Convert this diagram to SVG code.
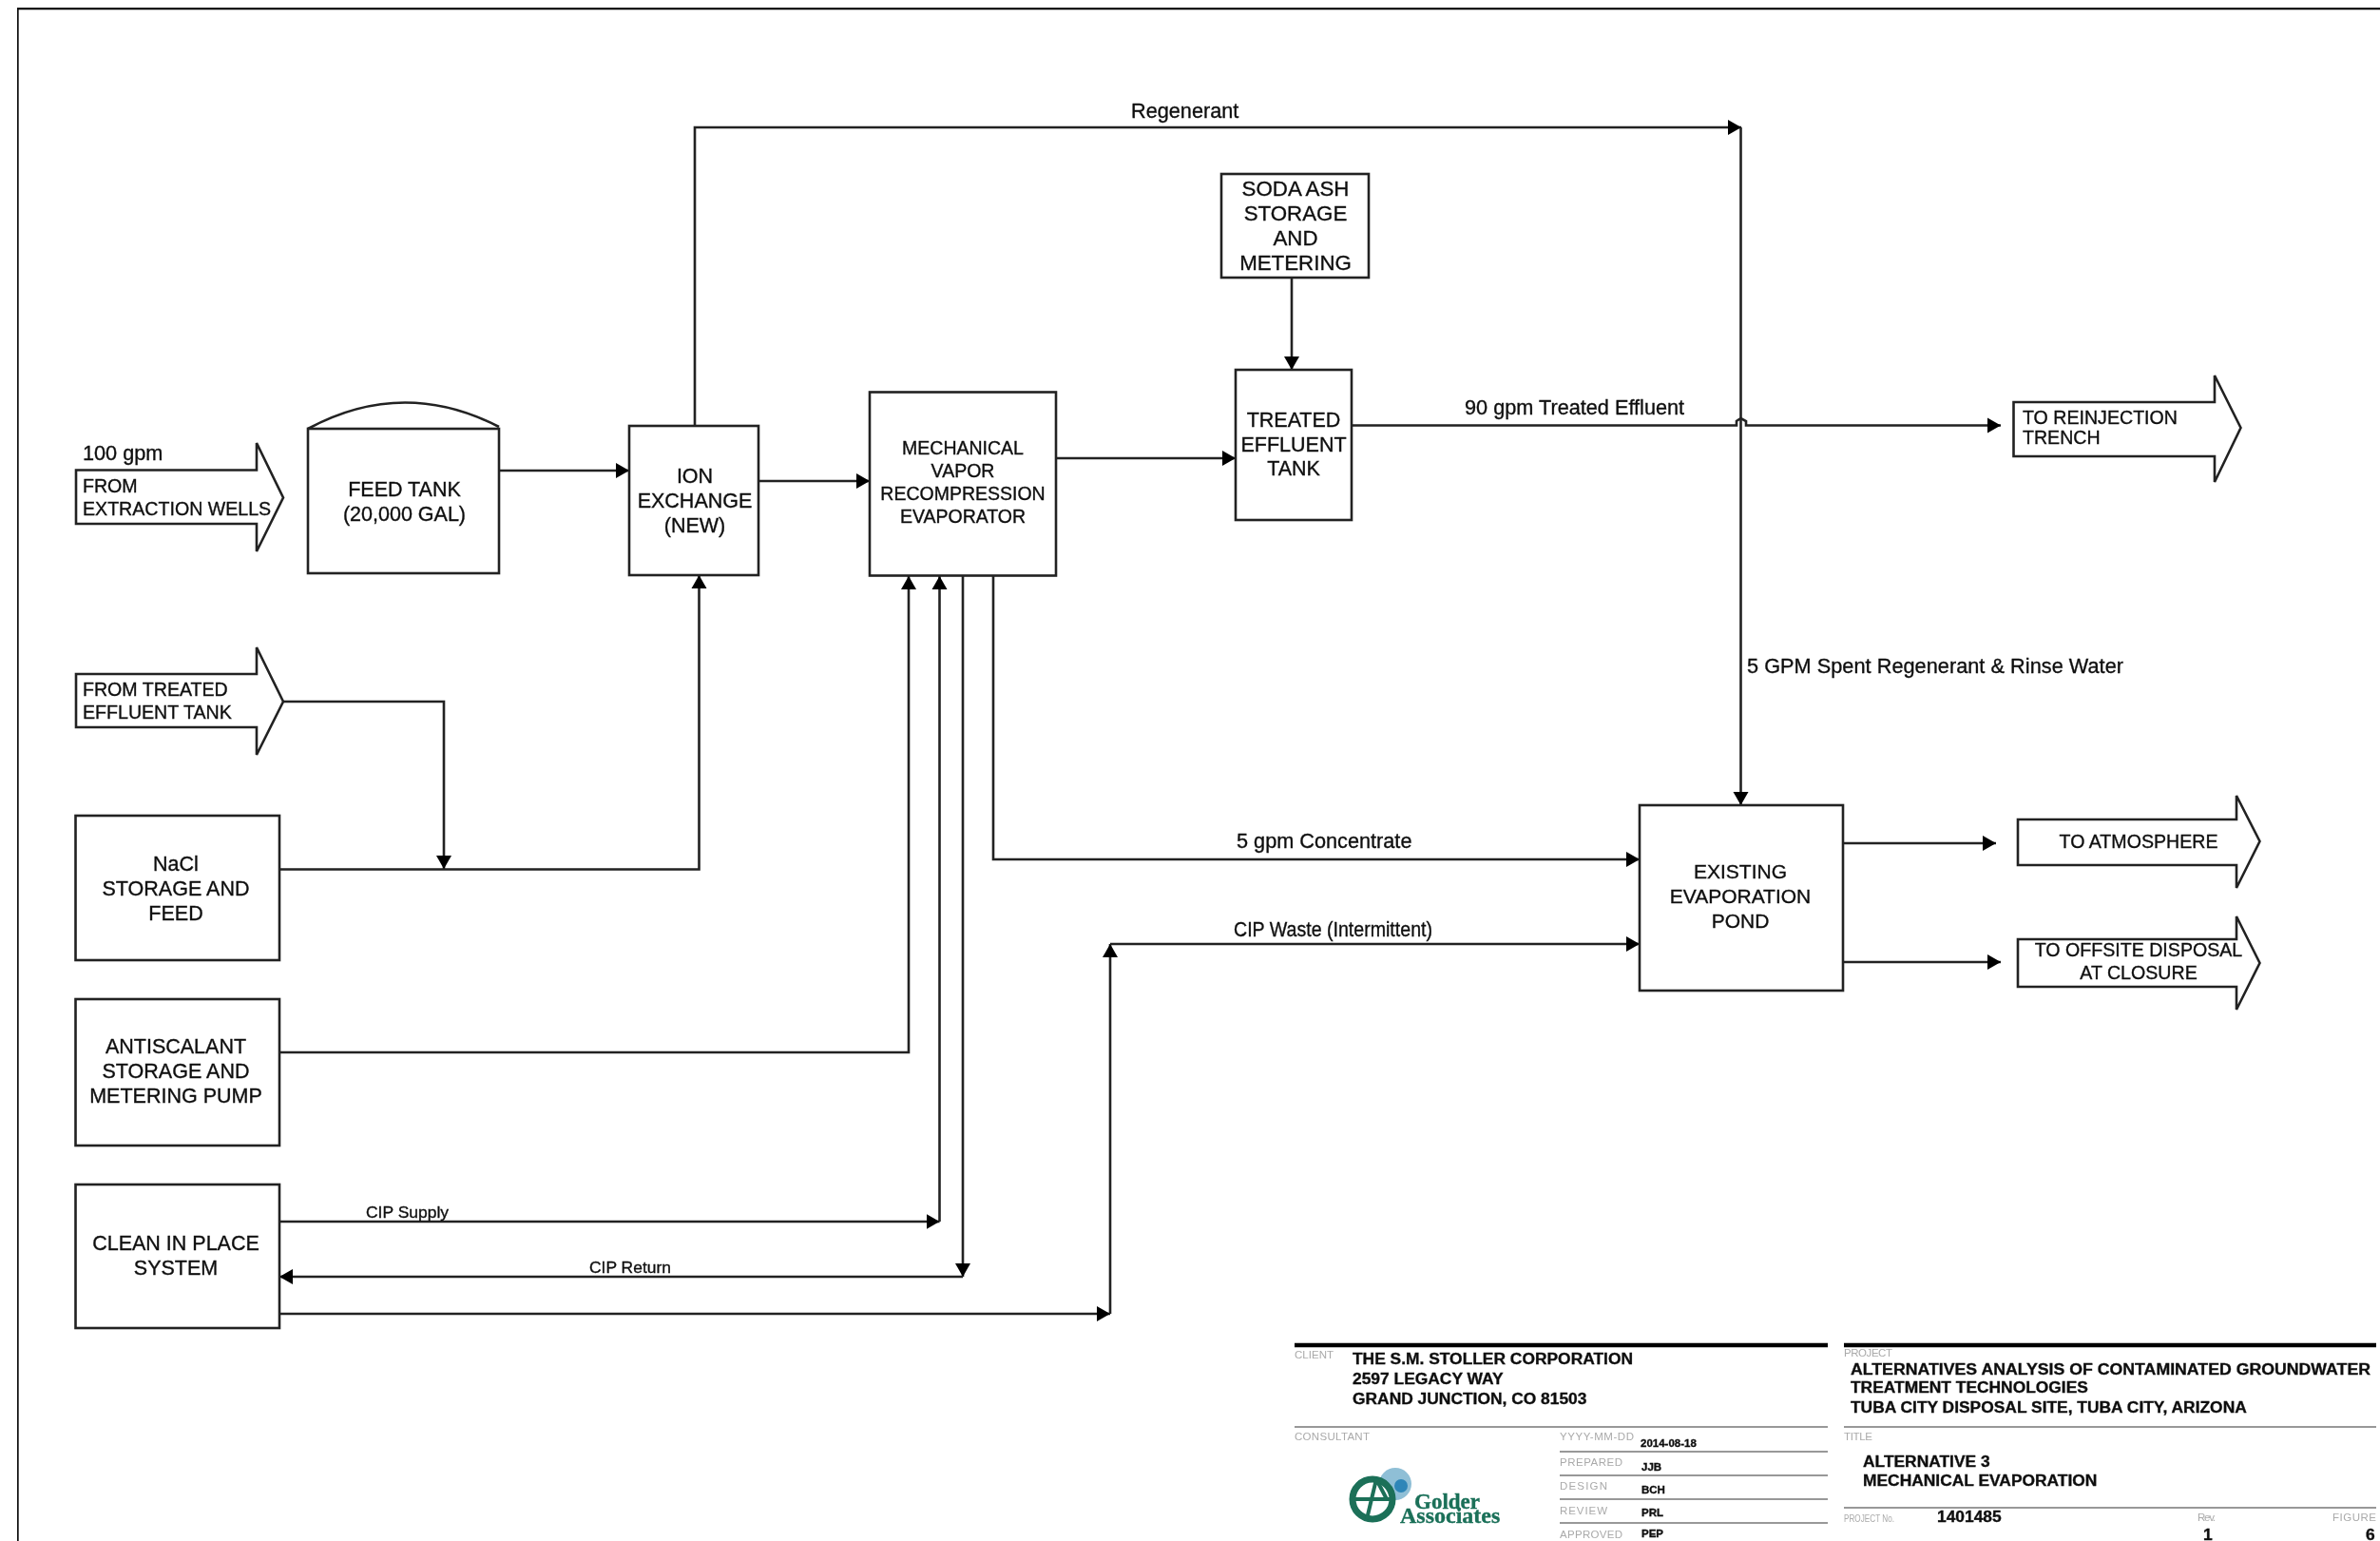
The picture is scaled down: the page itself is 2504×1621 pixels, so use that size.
<svg xmlns="http://www.w3.org/2000/svg" width="2504" height="1621" viewBox="0 0 2504 1621">
<style>
text{font-family:"Liberation Sans",Arial,sans-serif;fill:#111;stroke:#111;stroke-width:.35px}
.b{fill:#fff;stroke:#222;stroke-width:2.6}
.c{fill:none;stroke:#222;stroke-width:2.6}
.n{font-size:21.5px;text-anchor:middle}
.n2{font-size:22.3px;text-anchor:middle}
.a{font-size:19.6px}
.l{font-size:21.7px}
.s{font-size:17.3px}
.t{font-size:17.4px;font-weight:bold}
.g{font-size:11.5px;fill:#aaa;stroke:none}
.v{font-size:11.5px;font-weight:bold}
.h{fill:none;stroke:#777;stroke-width:1.6}
.k{fill:none;stroke:#000;stroke-width:4.5}
text.lg{font-family:"Liberation Serif",serif;font-weight:bold;fill:#1a6f58;stroke:#1a6f58}
</style>
<defs>
<marker id="ah" markerUnits="userSpaceOnUse" markerWidth="16" markerHeight="18" refX="14" refY="9" orient="auto" viewBox="0 0 16 18"><path d="M0 1L14 9L0 17z" fill="#000"/></marker>
<filter id="soft" x="0" y="0" width="100%" height="100%"><feGaussianBlur stdDeviation="0.55"/></filter>
</defs>
<rect width="2504" height="1621" fill="#fff"/>
<g id="drawing" filter="url(#soft)">
<path id="frame" d="M18 1621V8.500H2504" fill="none" stroke="#111" stroke-width="3.4"/>
<g id="connectors">
<path class="c" d="M525 495H662" marker-end="url(#ah)"/>
<path class="c" d="M798 506H915" marker-end="url(#ah)"/>
<path class="c" d="M1111 482H1300" marker-end="url(#ah)"/>
<path class="c" d="M731 448V134H1832" marker-end="url(#ah)"/>
<path class="c" d="M1359 292V389" marker-end="url(#ah)"/>
<path class="c" d="M1422 447.500H1827V443L1831.500 440L1837 443V447.500H2105" marker-end="url(#ah)"/>
<path class="c" d="M1831.500 134V847" marker-end="url(#ah)"/>
<path class="c" d="M298 738H467V914" marker-end="url(#ah)"/>
<path class="c" d="M294 914.500H735.500V605" marker-end="url(#ah)"/>
<path class="c" d="M294 1107H956V606" marker-end="url(#ah)"/>
<path class="c" d="M294 1285H988.500" marker-end="url(#ah)"/>
<path class="c" d="M988.500 1285V606" marker-end="url(#ah)"/>
<path class="c" d="M1013 606V1343" marker-end="url(#ah)"/>
<path class="c" d="M1013 1343H294" marker-end="url(#ah)"/>
<path class="c" d="M294 1382H1168" marker-end="url(#ah)"/>
<path class="c" d="M1168 1382V993" marker-end="url(#ah)"/>
<path class="c" d="M1168 993H1725" marker-end="url(#ah)"/>
<path class="c" d="M1045 606V904H1725" marker-end="url(#ah)"/>
<path class="c" d="M1939 887H2100" marker-end="url(#ah)"/>
<path class="c" d="M1939 1012H2105" marker-end="url(#ah)"/>
<text class="l" x="1190" y="124">Regenerant</text>
<text class="l" x="1541" y="436">90 gpm Treated Effluent</text>
<text class="l" x="1838" y="708" textLength="396">5 GPM Spent Regenerant &amp; Rinse Water</text>
<text class="l" x="1301" y="892">5 gpm Concentrate</text>
<text class="l" x="1298" y="985" textLength="209" lengthAdjust="spacingAndGlyphs">CIP Waste (Intermittent)</text>
<text class="s" x="385" y="1281" textLength="87" lengthAdjust="spacingAndGlyphs">CIP Supply</text>
<text class="s" x="620" y="1339" textLength="86" lengthAdjust="spacingAndGlyphs">CIP Return</text>
</g>
<g id="from-wells">
<path class="b" d="M80 494.500H270V466L298 523.500L270 580V551H80z"/>
<text class="l" x="87" y="484">100 gpm</text>
<text class="a" x="87" y="518">FROM</text>
<text class="a" x="87" y="542">EXTRACTION WELLS</text>
</g>
<g id="feed-tank">
<path class="b" d="M324 451Q424 397 525 449"/>
<rect class="b" x="324" y="451" width="201" height="152"/>
<text class="n" x="425.500" y="522">FEED TANK</text>
<text class="n" x="425.500" y="548">(20,000 GAL)</text>
</g>
<g id="ion-exchange">
<rect class="b" x="662" y="448" width="136" height="157"/>
<text class="n" x="731" y="508">ION</text>
<text class="n" x="731" y="534">EXCHANGE</text>
<text class="n" x="731" y="560">(NEW)</text>
</g>
<g id="mvr-evaporator">
<rect class="b" x="915" y="412.500" width="196" height="193"/>
<text class="n" x="1013" y="478" style="font-size:19.500px">MECHANICAL</text>
<text class="n" x="1013" y="502" style="font-size:19.500px">VAPOR</text>
<text class="n" x="1013" y="526" style="font-size:19.500px">RECOMPRESSION</text>
<text class="n" x="1013" y="550" style="font-size:19.500px">EVAPORATOR</text>
</g>
<g id="soda-ash">
<rect class="b" x="1285" y="183" width="155" height="109"/>
<text class="n2" x="1363" y="206">SODA ASH</text>
<text class="n2" x="1363" y="232">STORAGE</text>
<text class="n2" x="1363" y="258">AND</text>
<text class="n2" x="1363" y="284">METERING</text>
</g>
<g id="treated-effluent-tank">
<rect class="b" x="1300" y="389" width="122" height="158"/>
<text class="n" x="1361" y="449">TREATED</text>
<text class="n" x="1361" y="475">EFFLUENT</text>
<text class="n" x="1361" y="500">TANK</text>
</g>
<g id="to-reinjection">
<path class="b" d="M2118.500 423H2330V395L2357.500 450L2330 507V480H2118.500z"/>
<text class="a" x="2128" y="446">TO REINJECTION</text>
<text class="a" x="2128" y="467">TRENCH</text>
</g>
<g id="from-treated">
<path class="b" d="M80 709H270V681L298 738L270 794V765H80z"/>
<text class="a" x="87" y="732">FROM TREATED</text>
<text class="a" x="87" y="756">EFFLUENT TANK</text>
</g>
<g id="nacl">
<rect class="b" x="79.500" y="858" width="214.500" height="152"/>
<text class="n" x="185" y="916">NaCl</text>
<text class="n" x="185" y="942">STORAGE AND</text>
<text class="n" x="185" y="968">FEED</text>
</g>
<g id="antiscalant">
<rect class="b" x="79.500" y="1051" width="214.500" height="154"/>
<text class="n" x="185" y="1108">ANTISCALANT</text>
<text class="n" x="185" y="1134">STORAGE AND</text>
<text class="n" x="185" y="1160">METERING PUMP</text>
</g>
<g id="clean-in-place">
<rect class="b" x="79.500" y="1246" width="214.500" height="151"/>
<text class="n" x="185" y="1315">CLEAN IN PLACE</text>
<text class="n" x="185" y="1341">SYSTEM</text>
</g>
<g id="evaporation-pond">
<rect class="b" x="1725" y="847" width="214" height="195"/>
<text class="n" x="1831" y="924" style="font-size:21px">EXISTING</text>
<text class="n" x="1831" y="950" style="font-size:21px">EVAPORATION</text>
<text class="n" x="1831" y="976" style="font-size:21px">POND</text>
</g>
<g id="to-atmosphere">
<path class="b" d="M2123 862H2353V837L2377.500 885L2353 934V910H2123z"/>
<text class="a" x="2250" y="892" text-anchor="middle">TO ATMOSPHERE</text>
</g>
<g id="to-offsite">
<path class="b" d="M2123 988H2353V964L2377.500 1013L2353 1062V1038H2123z"/>
<text class="a" x="2250" y="1006" text-anchor="middle">TO OFFSITE DISPOSAL</text>
<text class="a" x="2250" y="1030" text-anchor="middle">AT CLOSURE</text>
</g>
<g id="title-block">
<path class="k" d="M1362 1415H1923M1940 1415H2500"/>
<path class="h" d="M1362 1501H1923M1940 1501H2500M1641 1527H1923M1641 1552H1923M1641 1577H1923M1641 1602H1923M1940 1586H2500"/>
<text class="g" x="1362" y="1429" textLength="41">CLIENT</text>
<text class="t" x="1423" y="1435">THE S.M. STOLLER CORPORATION</text>
<text class="t" x="1423" y="1456">2597 LEGACY WAY</text>
<text class="t" x="1423" y="1477">GRAND JUNCTION, CO 81503</text>
<text class="g" x="1362" y="1515" textLength="79">CONSULTANT</text>
<text class="g" x="1641" y="1515" textLength="78">YYYY-MM-DD</text>
<text class="v" x="1726" y="1522">2014-08-18</text>
<text class="g" x="1641" y="1542" textLength="66">PREPARED</text>
<text class="v" x="1727" y="1547">JJB</text>
<text class="g" x="1641" y="1567" textLength="50">DESIGN</text>
<text class="v" x="1727" y="1571">BCH</text>
<text class="g" x="1641" y="1593" textLength="50">REVIEW</text>
<text class="v" x="1727" y="1595">PRL</text>
<text class="g" x="1641" y="1618" textLength="66">APPROVED</text>
<text class="v" x="1727" y="1617">PEP</text>
<g id="golder-logo">
<circle cx="1468" cy="1561" r="17" fill="#8fbfd6"/>
<circle cx="1474" cy="1563" r="7" fill="#2f86b8"/>
<circle cx="1444" cy="1577" r="21" fill="#fff" stroke="#1a6f58" stroke-width="7"/>
<path d="M1422 1577H1466M1448 1556L1438 1598M1448 1556L1459 1577" fill="none" stroke="#1a6f58" stroke-width="4"/>
<text class="lg" x="1488" y="1587" style="font-size:23px">Golder</text>
<text class="lg" x="1473" y="1602" style="font-size:24px">Associates</text>
</g>
<text class="g" x="1940" y="1427" textLength="51">PROJECT</text>
<text class="t" x="1947" y="1446" textLength="547" lengthAdjust="spacingAndGlyphs">ALTERNATIVES ANALYSIS OF CONTAMINATED GROUNDWATER</text>
<text class="t" x="1947" y="1465">TREATMENT TECHNOLOGIES</text>
<text class="t" x="1947" y="1486">TUBA CITY DISPOSAL SITE, TUBA CITY, ARIZONA</text>
<text class="g" x="1940" y="1515" textLength="30">TITLE</text>
<text class="t" x="1960" y="1543">ALTERNATIVE 3</text>
<text class="t" x="1960" y="1563">MECHANICAL EVAPORATION</text>
<text class="g" x="1940" y="1601" textLength="53" lengthAdjust="spacingAndGlyphs">PROJECT No.</text>
<text class="t" x="2038" y="1601">1401485</text>
<text class="g" x="2312" y="1600" textLength="19">Rev.</text>
<text class="g" x="2454" y="1600" textLength="46">FIGURE</text>
<text class="t" x="2318" y="1620">1</text>
<text class="t" x="2489" y="1620">6</text>
</g>
</g>
</svg>
